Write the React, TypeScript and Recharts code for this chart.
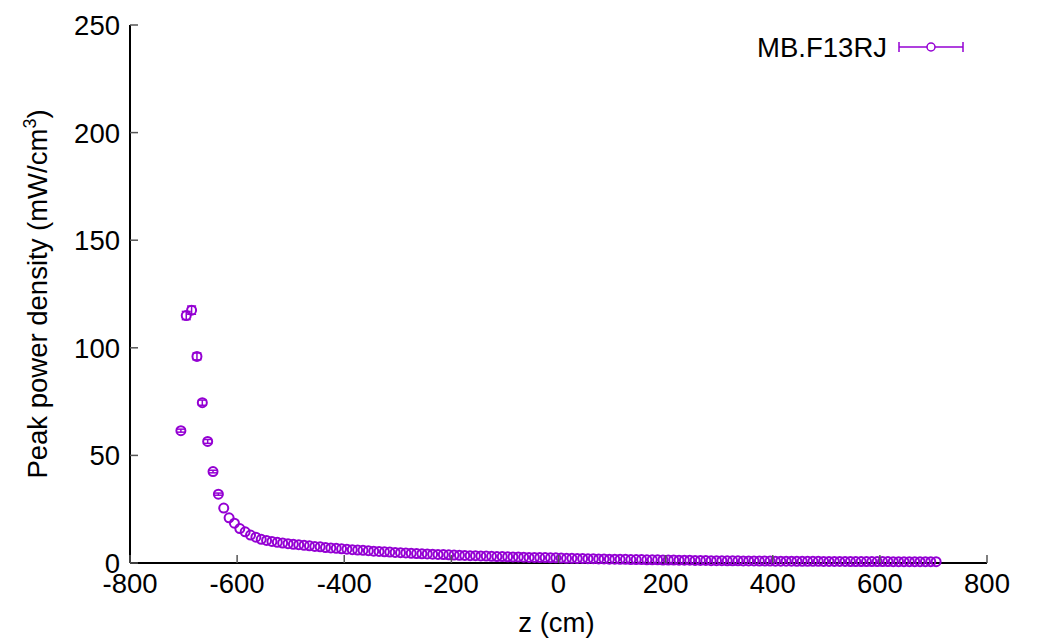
import React from "react";
import {
  ScatterChart,
  Scatter,
  XAxis,
  YAxis,
  ErrorBar,
} from "recharts";

// z positions along the magnet (cm)
const zValues = [
  -705, -695, -685, -675, -665, -655, -645, -635, -625, -615,
  -605, -595, -585, -575, -565, -555, -545, -535, -525, -515,
  -505, -495, -485, -475, -465, -455, -445, -435, -425, -415,
  -405, -395, -385, -375, -365, -355, -345, -335, -325, -315,
  -305, -295, -285, -275, -265, -255, -245, -235, -225, -215,
  -205, -195, -185, -175, -165, -155, -145, -135, -125, -115,
  -105, -95, -85, -75, -65, -55, -45, -35, -25, -15,
  -5, 5, 15, 25, 35, 45, 55, 65, 75, 85,
  95, 105, 115, 125, 135, 145, 155, 165, 175, 185,
  195, 205, 215, 225, 235, 245, 255, 265, 275, 285,
  295, 305, 315, 325, 335, 345, 355, 365, 375, 385,
  395, 405, 415, 425, 435, 445, 455, 465, 475, 485,
  495, 505, 515, 525, 535, 545, 555, 565, 575, 585,
  595, 605, 615, 625, 635, 645, 655, 665, 675, 685,
  695, 705,
];

// peak power density (mW/cm^3)
const powerValues = [
  61.5, 115, 117.5, 96, 74.5, 56.5, 42.5, 32, 25.5, 21,
  18.5, 16, 14.5, 13, 12, 11, 10.5, 10, 9.6, 9.3,
  9, 8.7, 8.5, 8.2, 8, 7.7, 7.5, 7.2, 7, 6.8,
  6.6, 6.4, 6.2, 6, 5.9, 5.7, 5.5, 5.4, 5.2, 5.1,
  4.9, 4.8, 4.7, 4.5, 4.4, 4.3, 4.2, 4.1, 4, 3.9,
  3.8, 3.7, 3.6, 3.5, 3.4, 3.4, 3.3, 3.2, 3.1, 3,
  3, 2.9, 2.8, 2.8, 2.7, 2.6, 2.6, 2.5, 2.5, 2.4,
  2.4, 2.3, 2.2, 2.2, 2.1, 2.1, 2, 2, 1.9, 1.9,
  1.8, 1.8, 1.7, 1.7, 1.6, 1.6, 1.6, 1.5, 1.5, 1.5,
  1.4, 1.4, 1.4, 1.3, 1.3, 1.3, 1.2, 1.2, 1.2, 1.1,
  1.1, 1.1, 1, 1, 1, 0.98, 0.96, 0.94, 0.92, 0.9,
  0.88, 0.87, 0.85, 0.84, 0.82, 0.81, 0.8, 0.78, 0.77, 0.76,
  0.75, 0.74, 0.73, 0.72, 0.71, 0.7, 0.69, 0.68, 0.67, 0.66,
  0.66, 0.65, 0.64, 0.63, 0.63, 0.62, 0.61, 0.61, 0.6, 0.6,
  0.59, 0.59,
];

// error bars (only visible near the peak)
const errValues = [0.7, 1.9, 1.9, 1.6, 1.2, 0.9, 0.6, 0.5];

const xTicks = [-800, -600, -400, -200, 0, 200, 400, 600, 800];
const yTicks = [0, 50, 100, 150, 200, 250];

const COLOR = "#9400d3";
const FONT = "'Liberation Sans', Arial, sans-serif";
const FS = 27.5;
const TICK = 8;

const data = zValues.map((z, i) => ({
  z,
  p: powerValues[i],
  err: errValues[i],
}));

const BottomTick = (props: any) => {
  const { x, y, payload } = props;
  return (
    <g>
      <line x1={x} x2={x} y1={y} y2={y - TICK} stroke="#555" strokeWidth={1.5} />
      <text x={x} y={y + 10} dy="0.71em" textAnchor="middle" fontSize={FS} fontFamily={FONT} fill="#000">
        {payload.value}
      </text>
    </g>
  );
};

const LeftTick = (props: any) => {
  const { x, y, payload } = props;
  return (
    <g>
      <line x1={x} x2={x + TICK} y1={y} y2={y} stroke="#555" strokeWidth={1.5} />
      <text x={x - 10} y={y} dy="0.36em" textAnchor="end" fontSize={FS} fontFamily={FONT} fill="#000">
        {payload.value}
      </text>
    </g>
  );
};

const TopTick = (props: any) => {
  const { x, y } = props;
  return <line x1={x} x2={x} y1={y} y2={y + TICK} stroke="#555" strokeWidth={1.5} />;
};

const RightTick = (props: any) => {
  const { x, y } = props;
  return <line x1={x} x2={x - TICK} y1={y} y2={y} stroke="#555" strokeWidth={1.5} />;
};

const Marker = (props: any) => {
  const { cx, cy } = props;
  return <circle cx={cx} cy={cy} r={4.5} fill="none" stroke={COLOR} strokeWidth={2} />;
};

export default function App() {
  return (
    <div style={{ position: "absolute", left: 0, top: 0, width: 1038, height: 638, background: "#fff" }}>
      <ScatterChart width={1038} height={638} margin={{ top: 25, right: 51, bottom: 0, left: 0 }}>
        <XAxis
          xAxisId="b"
          dataKey="z"
          type="number"
          domain={[-800, 800]}
          ticks={xTicks}
          height={75}
          tickSize={0}
          tickMargin={0}
          tick={<BottomTick />}
          axisLine={{ stroke: "#000", strokeWidth: 2 }}
          label={(p: any) => {
            const vb = p.viewBox;
            return (
              <text
                x={vb.x + vb.width / 2 - 2}
                y={622}
                dy="0.36em"
                textAnchor="middle"
                fontSize={FS}
                fontFamily={FONT}
                fill="#000"
              >
                z (cm)
              </text>
            );
          }}
        />
        <XAxis
          xAxisId="t"
          orientation="top"
          type="number"
          domain={[-800, 800]}
          ticks={xTicks}
          height={0}
          tickSize={0}
          tickMargin={0}
          tick={<TopTick />}
          axisLine={{ stroke: "#000", strokeWidth: 2 }}
        />
        <YAxis
          yAxisId="l"
          dataKey="p"
          type="number"
          domain={[0, 250]}
          ticks={yTicks}
          width={130}
          tickSize={0}
          tickMargin={0}
          tick={<LeftTick />}
          axisLine={{ stroke: "#000", strokeWidth: 2 }}
          label={(p: any) => {
            const vb = p.viewBox;
            const cx = 37;
            const cy = vb.y + vb.height / 2;
            return (
              <text
                x={cx}
                y={cy}
                transform={`rotate(-90 ${cx} ${cy})`}
                textAnchor="middle"
                dy="0.36em"
                fontSize={FS}
                fontFamily={FONT}
                fill="#000"
              >
                Peak power density (mW/cm
                <tspan fontSize={18} dy="-11">3</tspan>
                <tspan dy="11">)</tspan>
              </text>
            );
          }}
        />
        <YAxis
          yAxisId="r"
          orientation="right"
          type="number"
          domain={[0, 250]}
          ticks={yTicks}
          width={0}
          tickSize={0}
          tickMargin={0}
          tick={<RightTick />}
          axisLine={{ stroke: "#000", strokeWidth: 2 }}
        />
        <Scatter
          data={data}
          xAxisId="b"
          yAxisId="l"
          dataKey="p"
          shape={<Marker />}
          isAnimationActive={false}
        >
          <ErrorBar dataKey="err" direction="y" width={4.5} stroke={COLOR} strokeWidth={1.5} />
        </Scatter>
      </ScatterChart>
      <svg
        width={300}
        height={40}
        style={{ position: "absolute", left: 680, top: 27 }}
      >
        <text x={207} y={20} dy="0.36em" textAnchor="end" fontSize={FS} fontFamily={FONT} fill="#000">
          MB.F13RJ
        </text>
        <line x1={219} x2={283} y1={20} y2={20} stroke={COLOR} strokeWidth={1.5} />
        <line x1={219} x2={219} y1={15} y2={25} stroke={COLOR} strokeWidth={1.5} />
        <line x1={283} x2={283} y1={15} y2={25} stroke={COLOR} strokeWidth={1.5} />
        <circle cx={251} cy={20} r={4} fill="#fff" stroke={COLOR} strokeWidth={1.5} />
      </svg>
    </div>
  );
}
